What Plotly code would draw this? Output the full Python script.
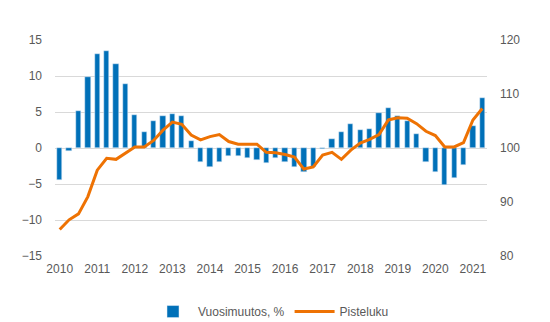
import plotly.graph_objects as go

years = list(range(2010, 2022))
quarters = [f"{y}Q{q}" for y in years for q in range(1, 5)][:46]

vuosimuutos = [-4.4, -0.4, 5.2, 9.9, 13.1, 13.5, 11.7, 8.9,
               4.6, 2.2, 3.7, 4.4, 4.7, 4.4, 1.0, -2.0,
               -2.7, -1.9, -1.1, -1.1, -1.4, -1.7, -2.1, -1.4,
               -2.0, -2.6, -3.4, -2.7, -0.2, 1.2, 2.2, 3.3,
               2.5, 2.6, 4.9, 5.6, 4.5, 3.7, 1.9, -1.9,
               -3.3, -5.1, -4.1, -2.3, 3.1, 6.9]
pisteluku = [84.9, 86.7, 87.8, 91.0, 95.9, 98.1, 97.9, 99.0,
             100.2, 100.2, 101.4, 103.3, 104.8, 104.4, 102.4, 101.5,
             102.1, 102.5, 101.2, 100.7, 100.7, 100.7, 99.2, 99.1,
             98.8, 98.3, 96.1, 96.5, 98.7, 99.2, 97.9, 99.6,
             100.9, 101.6, 102.5, 105.2, 105.6, 105.5, 104.5, 103.1,
             102.3, 100.2, 100.2, 101.0, 105.2, 107.3]

left_ticks = [-15, -10, -5, 0, 5, 10, 15]
right_ticks = [80, 90, 100, 110, 120]

x = list(range(len(quarters)))
font = "Liberation Sans, Arial, sans-serif"
tc = "#595959"

fig = go.Figure()
fig.add_trace(go.Bar(x=x, y=vuosimuutos, name="Vuosimuutos, %",
                     marker_color="#0070B8", width=0.56, yaxis="y"))
fig.add_trace(go.Scatter(x=x, y=pisteluku, name="Pisteluku", mode="lines",
                         line=dict(color="#EE7203", width=3), yaxis="y2"))

fig.update_layout(
    width=550, height=322,
    margin=dict(l=55, r=63, t=40, b=66, autoexpand=False),
    plot_bgcolor="white", paper_bgcolor="white",
    font=dict(family=font, size=12, color=tc),
    bargap=0,
    xaxis=dict(range=[-0.5, len(x) - 0.5],
               tickvals=[i * 4 for i in range(len(years))],
               ticktext=[str(y) for y in years],
               showgrid=False, zeroline=False, showline=False,
               ticks="", ticklabelstandoff=4, automargin=False,
               tickfont=dict(size=12, color=tc)),
    yaxis=dict(range=[-15, 15], tickvals=left_ticks,
               showgrid=True, gridcolor="#d9d9d9", gridwidth=1,
               zeroline=False, ticks="", ticklabelstandoff=12,
               automargin=False,
               tickfont=dict(size=12, color=tc)),
    yaxis2=dict(range=[80, 120], tickvals=right_ticks, overlaying="y",
                side="right", showgrid=False, zeroline=False, ticks="",
                ticklabelstandoff=12, automargin=False,
                tickfont=dict(size=12, color=tc)),
    legend=dict(orientation="h", x=0.5, xanchor="center", y=-0.19,
                yanchor="top", font=dict(size=12, color=tc),
                itemwidth=40),
    showlegend=True,
)

fig.write_html("out.html")
